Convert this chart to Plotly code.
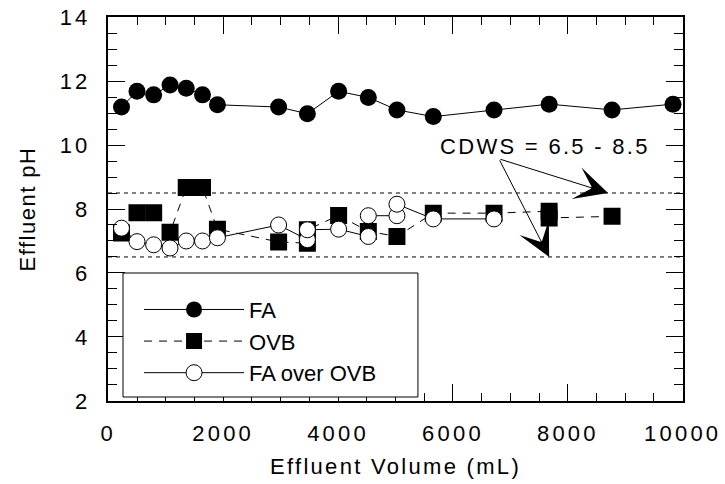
import plotly.graph_objects as go

# ---------------- data ----------------
fa_x = [230, 500, 790, 1075, 1357, 1640, 1900, 2965, 3466, 4010, 4527, 5025, 5658, 6715, 7675, 8770, 9831]
fa_y = [11.19, 11.68, 11.57, 11.88, 11.78, 11.57, 11.26, 11.19, 10.98, 11.68, 11.49, 11.10, 10.89, 11.10, 11.28, 11.10, 11.28]

ovb_x = [230, 500, 790, 1075, 1357, 1640, 1900, 2965, 3466, 3466, 4010, 4527, 5025, 5658, 6715, 7675, 7675, 8770]
ovb_y = [7.25, 7.88, 7.88, 7.27, 8.67, 8.67, 7.37, 6.97, 6.93, 7.35, 7.80, 7.30, 7.14, 7.87, 7.87, 7.93, 7.72, 7.77]

faovb_x = [230, 500, 790, 1075, 1357, 1640, 1900, 2965, 3466, 3466, 4010, 4527, 4527, 5025, 5025, 5658, 6715]
faovb_y = [7.40, 6.98, 6.88, 6.78, 7.00, 7.00, 7.10, 7.50, 7.04, 7.35, 7.37, 7.14, 7.79, 7.79, 8.15, 7.69, 7.69]

series_names = ["FA", "OVB", "FA over OVB"]
cdws_limits = [6.5, 8.5]
cdws_label = "CDWS = 6.5 - 8.5"
x_range = [0, 10000]
y_range = [2, 14]
x_major, x_minor = 2000, 500
y_major, y_minor = 2, 0.5
x_title = "Effluent Volume (mL)"
y_title = "Effluent pH"

FONT = "Liberation Sans, Arial, Helvetica, sans-serif"
SP_OPEN = '<span style="letter-spacing:%.1fpx">'
SP_CLOSE = '</span>'


def sp(t, s=3.0):
    return (SP_OPEN % s) + t + SP_CLOSE


fig = go.Figure()

fig.add_trace(go.Scatter(
    x=fa_x, y=fa_y, name=series_names[0], mode="lines+markers",
    line=dict(color="black", width=1),
    marker=dict(symbol="circle", size=17, color="black")))

fig.add_trace(go.Scatter(
    x=ovb_x, y=ovb_y, name=series_names[1], mode="lines+markers",
    line=dict(color="black", width=1, dash="8px,7px"),
    marker=dict(symbol="square", size=17, color="black")))

fig.add_trace(go.Scatter(
    x=faovb_x, y=faovb_y, name=series_names[2], mode="lines+markers",
    line=dict(color="black", width=1),
    marker=dict(symbol="circle", size=16, color="white", line=dict(color="black", width=1))))

# CDWS limit lines
for v in cdws_limits:
    fig.add_shape(type="line", xref="paper", x0=0, x1=1, yref="y", y0=v, y1=v,
                  line=dict(color="black", width=1, dash="4px,4px"), layer="below")

# legend frame
fig.add_shape(type="rect", xref="paper", yref="paper", x0=0.0261, x1=0.539, y0=0.0104, y1=0.3333,
              line=dict(color="black", width=1), fillcolor="white", layer="above")

# CDWS label and arrows
fig.add_annotation(x=7600, y=9.97, xref="x", yref="y", text=sp(cdws_label, 2.3),
                   showarrow=False, font=dict(family=FONT, size=22, color="black"))
tail_x, tail_y = 6800, 9.57
for tip_x, tip_y in [(8700, cdws_limits[1]), (7675, cdws_limits[0])]:
    fig.add_annotation(x=tip_x, y=tip_y, xref="x", yref="y", ax=tail_x, ay=tail_y,
                       axref="x", ayref="y", text="", showarrow=True,
                       arrowhead=3, arrowsize=5.5, arrowwidth=1, arrowcolor="black")

common = dict(ticks="inside", ticklen=17, tickwidth=1, tickcolor="black",
              showline=True, linecolor="black", linewidth=1.5, mirror="ticks",
              showgrid=False, zeroline=False,
              tickfont=dict(family=FONT, size=22, color="black"),
              tickmode="linear", tick0=0, tickformat="d", ticklabelstandoff=12)

fig.update_layout(
    xaxis=dict(range=x_range, dtick=x_major, domain=[0.0005, 0.9995], anchor="y",
               tickprefix=SP_OPEN % 3.2, ticksuffix=SP_CLOSE,
               minor=dict(ticks="inside", ticklen=8.5, tickcolor="black", dtick=x_minor),
               title=dict(text=sp(x_title, 2.3), font=dict(family=FONT, size=22, color="black"), standoff=14),
               **common),
    yaxis=dict(range=y_range, dtick=y_major, domain=[0.0005, 0.9995], anchor="x",
               tickprefix=SP_OPEN % 3.0, ticksuffix=SP_CLOSE,
               minor=dict(ticks="inside", ticklen=8.5, tickcolor="black", dtick=y_minor),
               title=dict(text=sp(y_title, 1.5), font=dict(family=FONT, size=22, color="black"), standoff=18),
               **common),
)

fig.update_layout(
    width=725, height=484,
    margin=dict(l=108, r=42, t=17, b=83, autoexpand=False),
    paper_bgcolor="white", plot_bgcolor="white",
    font=dict(family=FONT, size=22, color="black"),
    showlegend=True,
    legend=dict(
        x=0.054, y=0.2925, xanchor="left", yanchor="top",
        bgcolor="rgba(0,0,0,0)", borderwidth=0,
        itemwidth=100, traceorder="normal",
        font=dict(family=FONT, size=22, color="black"),
    ),
)

fig.write_html("out.html")
